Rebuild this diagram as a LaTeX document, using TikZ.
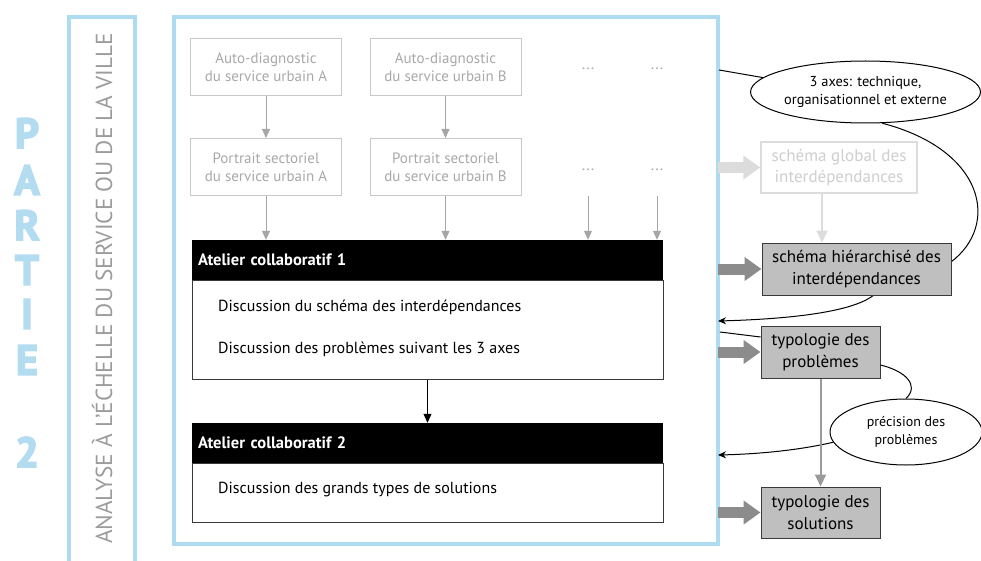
\documentclass[tikz,border=0pt]{standalone}
\usepackage{fontspec}
\setmainfont{PT Sans}
\newfontfamily\partiefont{PT Sans}[BoldFeatures={FakeBold=4}]
\usetikzlibrary{arrows.meta,shapes.geometric}
\definecolor{sky}{HTML}{ADDCF0}
\definecolor{skytext}{HTML}{B4DCF0}
\definecolor{lbord}{HTML}{C8C8C8}
\definecolor{ltext}{HTML}{A8A8A8}
\definecolor{larrow}{HTML}{A6A6A6}
\definecolor{vtext}{HTML}{9C9C9C}
\definecolor{boxgray}{HTML}{BFBFBF}
\definecolor{dborder}{HTML}{3A3A3A}
\definecolor{bigarr}{HTML}{8C8C8C}
\definecolor{faint}{HTML}{DCDCDC}
\definecolor{fainttext}{HTML}{CFCFCF}
\definecolor{midarr}{HTML}{9A9A9A}
\begin{document}
\begin{tikzpicture}[x=1pt,y=-1pt,
  partie/.style={text=skytext, font=\partiefont\bfseries\fontsize{42}{44}\selectfont, inner sep=0pt},
  lightbox/.style={draw=lbord, line width=1pt, text=ltext, font=\fontsize{15}{18}\selectfont,
    minimum width=151pt, minimum height=57pt, inner sep=0pt, align=center},
  dots/.style={text=ltext, font=\fontsize{16}{18}\selectfont, inner sep=0pt},
  thinarrow/.style={draw=larrow, line width=1pt, -{Triangle[width=8pt,length=9pt]}},
  head/.style={fill=black, text=white, font=\bfseries\fontsize{16.5}{19}\selectfont,
    minimum width=471pt, minimum height=40pt, inner sep=0pt, text width=459pt, align=left},
  body/.style={draw=dborder, line width=1pt, fill=white, minimum width=471pt, inner sep=0pt},
  btext/.style={anchor=west, font=\fontsize{16}{19}\selectfont, inner sep=0pt},
  outbox/.style={draw=dborder, fill=boxgray, line width=1pt, font=\fontsize{17}{21.5}\selectfont,
    align=center, inner sep=0pt},
  bigarrow/.style={line width=11pt, -{Triangle[width=23pt,length=17pt]}},
  ell/.style={ellipse, draw, line width=1pt, fill=white, align=center, inner sep=0pt,
    font=\fontsize{14.4}{18}\selectfont},
  link/.style={draw, line width=1pt},
  linkarrow/.style={draw, line width=1pt, -{Stealth[length=8pt,width=7pt]}}
]
\useasboundingbox (0,0) rectangle (981,561);

% PARTIE 2
\node[partie] (p1) at (27,133) {P};
\node[partie] (p2) at (27,180) {A};
\node[partie] (p3) at (27,225) {R};
\node[partie] (p4) at (27,270) {T};
\node[partie] (p5) at (27,314) {I};
\node[partie] (p6) at (27,360) {E};
\node[partie] (p7) at (27,452) {2};

% left frame
\draw[sky, line width=4pt] (69,561) -- (69,17) -- (134.5,17) -- (134.5,561);
\node[rotate=90, anchor=base, text=vtext, font=\fontsize{23.2}{25}\selectfont, inner sep=0pt]
  (vt) at (112,288.5) {ANALYSE À L’ÉCHELLE DU SERVICE OU DE LA VILLE};

% main frame
\node[draw=sky, line width=4pt, minimum width=544pt, minimum height=526.5pt, inner sep=0pt, outer sep=0pt]
  (main) at (446,280.75) {};

% top light boxes
\node[lightbox] (ada) at (266,67.5) {Auto-diagnostic\\du service urbain A};
\node[lightbox] (adb) at (445.5,67.5) {Auto-diagnostic\\du service urbain B};
\node[lightbox] (psa) at (266,167) {Portrait sectoriel\\du service urbain A};
\node[lightbox] (psb) at (445.5,167) {Portrait sectoriel\\du service urbain B};
\node[dots] (d1) at (588,69) {...};
\node[dots] (d2) at (657,69) {...};
\node[dots] (d3) at (588,170) {...};
\node[dots] (d4) at (657,170) {...};
\coordinate (d3s) at (588,196);
\coordinate (d4s) at (657,196);

% ateliers
\node[head] (a1h) at (427.5,260) {Atelier collaboratif 1};
\node[body, minimum height=99pt] (a1b) at (427.5,329.5) {};
\node[btext] (a1t1) at (218,307) {Discussion du schéma des interdépendances};
\node[btext] (a1t2) at (218,349) {Discussion des problèmes suivant les 3 axes};
\node[head] (a2h) at (427.5,443) {Atelier collaboratif 2};
\node[body, minimum height=59pt] (a2b) at (427.5,492.5) {};
\node[btext] (a2t1) at (218,490) {Discussion des grands types de solutions};

\draw[thinarrow] (ada) -- (psa);
\draw[thinarrow] (adb) -- (psb);
\draw[thinarrow] (psa) -- (psa |- a1h.north);
\draw[thinarrow] (psb) -- (psb |- a1h.north);
\draw[thinarrow] (d3s) -- (d3s |- a1h.north);
\draw[thinarrow] (d4s) -- (d4s |- a1h.north);
\draw[line width=1pt, -{Triangle[width=8pt,length=9pt]}] (a1b.south) -- (a2h.north);

% right side
\node[ell, minimum width=207pt, minimum height=62pt] (e1) at (865.5,92) {3 axes: technique,\\organisationnel et externe};
\coordinate (m70) at (719,70);
\draw[link] (m70) -- (e1.172);

% big curve behind the hierarchical box
\draw[link] (e1.-62) .. controls (985,150) and (1000,225) .. (951,262);
\draw[linkarrow] (875,294) .. controls (855,312) and (790,319) .. (main.east |- 0,321);

\node[draw=faint, line width=1.5pt, fill=white, text=fainttext, font=\fontsize{17}{21.5}\selectfont,
  align=center, inner sep=0pt, minimum width=156pt, minimum height=51pt] (glob) at (839,167.5)
  {schéma global des\\interdépendances};
\node[outbox, minimum width=189pt, minimum height=52pt] (hier) at (856.5,269) {schéma hiérarchisé des\\interdépendances};
\node[outbox, minimum width=119pt, minimum height=52pt] (typp) at (820.5,352) {typologie des\\problèmes};
\node[ell, minimum width=152pt, minimum height=66pt, font=\fontsize{14}{18}\selectfont] (e2) at (906,432) {précision des\\problèmes};
\node[outbox, minimum width=119pt, minimum height=51pt] (typs) at (820.5,512.5) {typologie des\\solutions};

\draw[faint, bigarrow] (main.east |- glob.west) -- (glob.west);
\draw[bigarr, bigarrow] (main.east |- hier.west) -- (hier.west);
\draw[bigarr, bigarrow] (main.east |- typp.west) -- (typp.west);
\draw[bigarr, bigarrow] (main.east |- typs.west) -- (typs.west);

\draw[faint, line width=2pt, -{Triangle[width=11pt,length=12pt]}] (glob.south -| 822,0) -- (hier.north -| 822,0);

\coordinate (m332) at (720,332);
\draw[link] (m332) -- (typp.west |- 0,337);
\draw[link] (typp.east |- 0,365) .. controls (905,371) and (920,385) .. (e2.north);
\draw[linkarrow] (e2.188) .. controls (800,450) and (760,454) .. (main.east |- 0,455);

\draw[midarr, line width=2pt, -{Triangle[width=11pt,length=12pt]}] (typp.south) -- (typs.north);
\end{tikzpicture}
\end{document}
